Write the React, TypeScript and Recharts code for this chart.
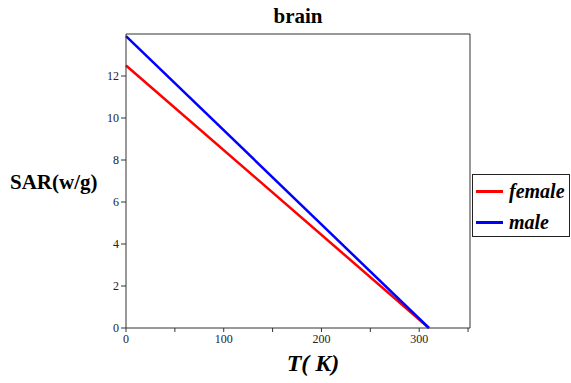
import { LineChart, Line, XAxis, YAxis, ReferenceLine } from "recharts";

// temperature (K) and SAR (w/g)
const temps = [0, 310];
const female = [12.5, 0];
const male = [13.9, 0];
const xTicks = [0, 50, 100, 150, 200, 250, 300, 350];
const yTicks = [0, 2, 4, 6, 8, 10, 12];

const serif = "'Liberation Serif', 'DejaVu Serif', serif";

export default function App() {
  const data = temps.map((t, i) => ({ t, female: female[i], male: male[i] }));

  return (
    <div style={{ position: "absolute", left: 0, top: 0, width: 571, height: 383, background: "#fff", fontFamily: serif }}>
      <LineChart
        width={571}
        height={383}
        data={data}
        margin={{ top: 34, right: 101, left: 0, bottom: 0 }}
        style={{ fontFamily: serif }}
      >
        <XAxis
          dataKey="t"
          type="number"
          domain={[0, 352]}
          ticks={xTicks}
          tickFormatter={(v: number) => (v % 100 === 0 ? String(v) : "")}
          height={55}
          stroke="#333"
          tickSize={4}
          tick={{ fontSize: 12, fill: "#222", fontFamily: serif }}
        />
        <YAxis
          type="number"
          domain={[0, 14]}
          ticks={yTicks}
          width={126}
          stroke="#333"
          tickSize={5}
          tick={{ fontSize: 12, fill: "#222", fontFamily: serif }}
        />
        <ReferenceLine y={14} stroke="#333" />
        <ReferenceLine x={352} stroke="#333" />
        <Line dataKey="female" stroke="#ff0000" strokeWidth={2.5} dot={false} isAnimationActive={false} />
        <Line dataKey="male" stroke="#0000ff" strokeWidth={2.5} dot={false} isAnimationActive={false} />
      </LineChart>

      <div style={{ position: "absolute", left: 248, top: 4, width: 100, textAlign: "center", fontSize: 21, fontWeight: "bold" }}>
        brain
      </div>
      <div style={{ position: "absolute", left: 10, top: 170, fontSize: 21, fontWeight: "bold" }}>
        SAR(w/g)
      </div>
      <div style={{ position: "absolute", left: 263, top: 350, width: 100, textAlign: "center", fontSize: 24, fontWeight: "bold", fontStyle: "italic" }}>
        T( K)
      </div>

      <div
        style={{
          position: "absolute",
          left: 472,
          top: 174,
          width: 96,
          height: 61,
          border: "1.5px solid #222",
          fontSize: 20,
          fontWeight: "bold",
          fontStyle: "italic",
        }}
      >
        {[
          { name: "female", color: "#ff0000" },
          { name: "male", color: "#0000ff" },
        ].map((s) => (
          <div key={s.name} style={{ display: "flex", alignItems: "center", height: 29, marginTop: 2 }}>
            <span style={{ display: "inline-block", width: 27, height: 3, background: s.color, marginLeft: 3, marginRight: 6 }} />
            <span>{s.name}</span>
          </div>
        ))}
      </div>
    </div>
  );
}
